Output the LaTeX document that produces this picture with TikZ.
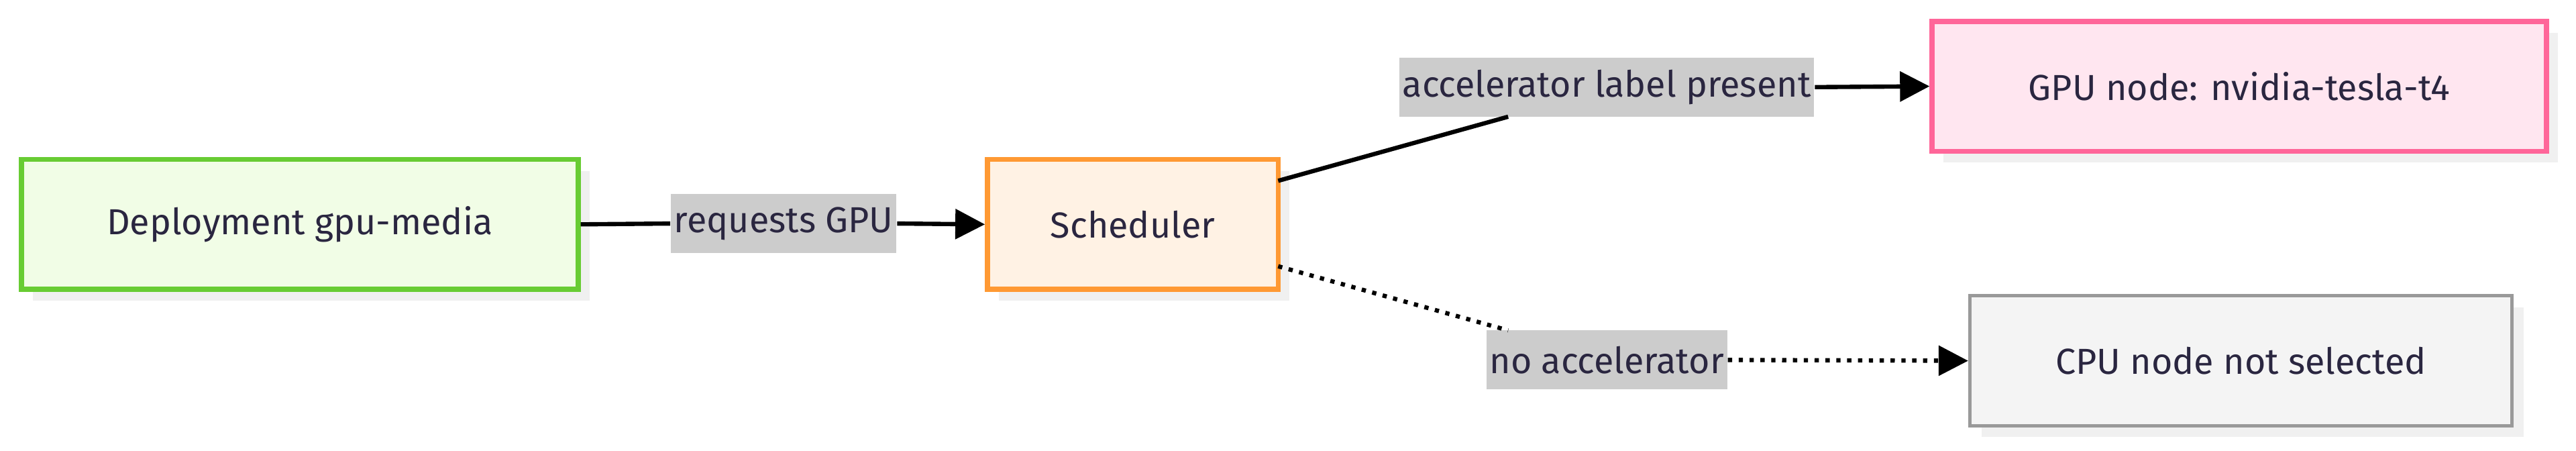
\documentclass[tikz,border=0pt]{standalone}
\usepackage{fontspec}
\setmainfont{Fira Sans}
\usetikzlibrary{arrows.meta}
\definecolor{txt}{HTML}{2A2640}
\tikzset{
  box/.style={draw=#1, line width=1.5pt, minimum height=39.5pt, inner sep=0pt, font=\fontsize{11}{13}\selectfont, text=txt},
  shad/.style={fill=black!6, draw=none},
  lab/.style={fill=black!20, inner sep=1pt, minimum height=18pt, font=\fontsize{11}{13}\selectfont, text=txt},
  conn/.style={line width=1.3pt, -{Triangle[length=9pt,width=9pt]}},
}
\begin{document}
\begin{tikzpicture}[x=0.5pt,y=-0.5pt]
\useasboundingbox (0,0) rectangle (1568,274);
% shadows
\fill[shad] (20,104) rectangle (359,183);
\fill[shad] (608,104) rectangle (785,183);
\fill[shad] (1183,20) rectangle (1557,99);
\fill[shad] (1206,187) rectangle (1536,266);
\node[box=green!70!black!60!green, fill={rgb,255:red,241;green,253;blue,230}, draw={rgb,255:red,104;green,204;blue,51}, minimum width=169.5pt] (dep) at (182.5,136.5) {Deployment gpu-media};
\node[box=orange, fill={rgb,255:red,255;green,242;blue,228}, draw={rgb,255:red,255;green,153;blue,51}, minimum width=88.5pt] (sch) at (689.5,136.5) {Scheduler};
\node[box=pink, fill={rgb,255:red,255;green,230;blue,240}, draw={rgb,255:red,255;green,102;blue,153}, minimum width=187pt] (gpu) at (1363,52.5) {GPU node: nvidia-tesla-t4};
\node[box=gray, fill={rgb,255:red,244;green,244;blue,244}, draw={rgb,255:red,153;green,153;blue,153}, line width=1pt, minimum width=165pt] (cpu) at (1364,219.5) {CPU node not selected};
% labels
\node[lab] (l1) at (477,136) {requests GPU};
\node[lab] (l2) at (978,53) {accelerator label present};
\node[lab] (l3) at (978,219) {no accelerator};
% connectors
\draw[line width=1.3pt] (dep.east) -- (l1.west);
\draw[conn] (l1.east) -- (sch.west);
\coordinate (a1) at (778,110);
\coordinate (a2) at (918,71);
\draw[line width=1.3pt] (a1) -- (a2);
\draw[conn] (l2.east) -- (gpu.west);
\coordinate (b1) at (778,162);
\coordinate (b2) at (918,201);
\draw[line width=1.3pt, dotted] (b1) -- (b2);
\draw[conn, dotted] (l3.east) -- (cpu.west);
\end{tikzpicture}
\end{document}
